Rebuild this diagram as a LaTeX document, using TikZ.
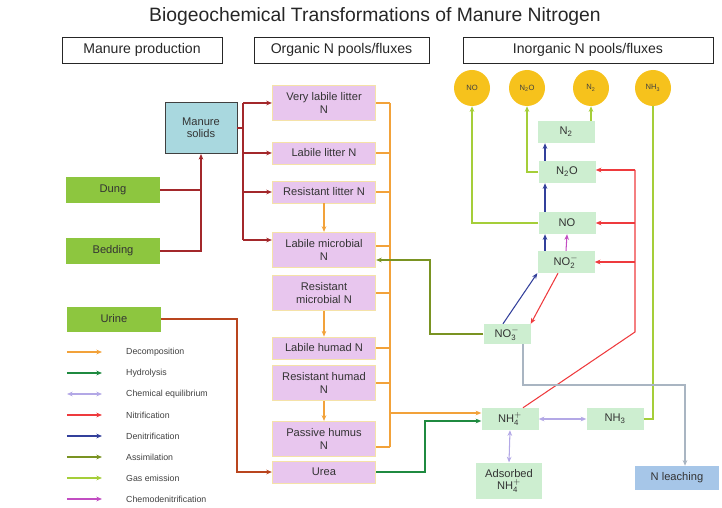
\documentclass[tikz,border=0pt]{standalone}
\usepackage{amsmath}
\usepackage{fontspec}
\setmainfont{Liberation Sans}
\usetikzlibrary{arrows.meta, positioning}

\definecolor{GasGold}{HTML}{F6C21C}
\definecolor{SourceGreen}{HTML}{8DC63F}
\definecolor{SolidsBlue}{HTML}{A9D8DF}
\definecolor{PoolPink}{HTML}{E8C6EE}
\definecolor{PoolEdge}{HTML}{F5E2A8}
\definecolor{InorgGreen}{HTML}{CDEED0}
\definecolor{LeachBlue}{HTML}{A6C6E8}
\definecolor{ManureRed}{HTML}{A3282B}
\definecolor{UrineBrown}{HTML}{B9451E}
\definecolor{DecompOrange}{HTML}{F2A23A}
\definecolor{HydroGreen}{HTML}{1F8A40}
\definecolor{EquilLilac}{HTML}{B3A8E6}
\definecolor{NitrRed}{HTML}{EE3A3D}
\definecolor{DenitBlue}{HTML}{33409B}
\definecolor{AssimOlive}{HTML}{7A9322}
\definecolor{GasLime}{HTML}{A5CE39}
\definecolor{ChemoMagenta}{HTML}{C24DC2}
\definecolor{LeachGray}{HTML}{A9B5C2}

\begin{document}
\begin{tikzpicture}[x=0.03cm, y=-0.03cm,
    txt/.style={font=\fontsize{9.5}{10.5}\selectfont, text=black!80, align=center, inner sep=1pt},
    header/.style={draw=black!85, line width=0.8pt, minimum height=0.78cm, font=\fontsize{12}{14}\selectfont, text=black!85},
    gasball/.style={circle, fill=GasGold, minimum size=1.08cm, inner sep=0pt, font=\fontsize{6.5}{7}\selectfont, text=black!75},
    source/.style={txt, fill=SourceGreen, minimum width=2.8cm, minimum height=0.75cm},
    solidsbox/.style={txt, fill=SolidsBlue, draw=black!75, line width=0.8pt, minimum width=2.16cm, minimum height=1.53cm},
    pool/.style={txt, fill=PoolPink, draw=PoolEdge, line width=0.8pt, minimum width=3.1cm, minimum height=0.66cm},
    pool2/.style={pool, minimum height=1.06cm},
    inorg/.style={txt, fill=InorgGreen, minimum width=1.71cm, minimum height=0.66cm},
    legtxt/.style={font=\fontsize{7.5}{8}\selectfont, text=black!75, anchor=west, inner sep=0pt},
    arr/.style={-{Stealth[length=1.7mm, width=1.4mm]}, line width=0.9pt},
    manline/.style={line width=0.9pt, ManureRed},
    manarr/.style={arr, ManureRed},
    urinearr/.style={arr, UrineBrown},
    decomp/.style={line width=0.9pt, DecompOrange},
    decomparr/.style={arr, DecompOrange},
    hydroarr/.style={arr, HydroGreen},
    equilarr/.style={{Stealth[length=1.7mm, width=1.4mm]}-{Stealth[length=1.7mm, width=1.4mm]}, line width=0.9pt, EquilLilac},
    nitrline/.style={line width=0.9pt, NitrRed},
    nitrarr/.style={arr, NitrRed},
    denitarr/.style={arr, DenitBlue},
    assimarr/.style={arr, AssimOlive},
    gasline/.style={line width=0.9pt, GasLime},
    gasarr/.style={arr, GasLime},
    chemoarr/.style={arr, ChemoMagenta},
    leacharr/.style={arr, LeachGray},
]
\useasboundingbox (0,0) rectangle (722,508);

% --- Title and column headers ---
\node[font=\fontsize{16.5}{18}\selectfont, text=black!85] (title) at (375,17) {Biogeochemical Transformations of Manure Nitrogen};
\node[header, minimum width=4.8cm]  (hprod) at (142,50) {Manure production};
\node[header, minimum width=5.25cm] (horg)  at (341.5,50) {Organic N pools/fluxes};
\node[header, minimum width=7.5cm]  (hinorg) at (588,50) {Inorganic N pools/fluxes};

% --- Gaseous losses ---
\node[gasball] (gNO)  at (472,88) {NO};
\node[gasball] (gN2O) at (527,88) {N$_\text{2}$O};
\node[gasball] (gN2)  at (591,88) {N$_\text{2}$};
\node[gasball] (gNH3) at (653,88) {NH$_\text{3}$};

% --- Manure production ---
\node[solidsbox] (solids)  at (201,128) {Manure\\solids};
\node[source]    (dung)    at (113,190) {Dung};
\node[source]    (bedding) at (113,251) {Bedding};
\node[source]    (urine)   at (114,319) {Urine};

% --- Organic N pools ---
\node[pool2] (vlit) at (324,103) {Very labile litter\\N};
\node[pool]  (llit) at (324,153) {Labile litter N};
\node[pool]  (rlit) at (324,192) {Resistant litter N};
\node[pool2] (lmic) at (324,250) {Labile microbial\\N};
\node[pool2] (rmic) at (324,293) {Resistant\\microbial N};
\node[pool]  (lhum) at (324,348) {Labile humad N};
\node[pool2] (rhum) at (324,383) {Resistant humad\\N};
\node[pool2] (phum) at (324,439) {Passive humus\\N};
\node[pool]  (urea) at (324,472) {Urea};

% --- Inorganic N pools ---
\node[inorg] (n2)  at (566,132) {N$_\text{2}$};
\node[inorg] (n2o) at (567,172) {N$_\text{2}$O};
\node[inorg] (no)  at (567,223) {NO};
\node[inorg] (no2) at (566,262) {NO$_\text{2}^-$};
\node[inorg, minimum width=1.41cm, minimum height=0.6cm] (no3) at (507,334) {NO$_\text{3}^-$};
\node[inorg] (nh4) at (510,419) {NH$_\text{4}^+$};
\node[inorg] (nh3) at (615,419) {NH$_\text{3}$};
\node[inorg, minimum width=1.98cm, minimum height=1.1cm] (ads) at (509,481) {Adsorbed\\NH$_\text{4}^+$};
\node[txt, fill=LeachBlue, minimum width=2.52cm, minimum height=0.72cm] (leach) at (677,478) {N leaching};

% --- Bend points ---
\coordinate (mbus)    at (243,103);
\coordinate (ubus)    at (237,400);
\coordinate (busTop)  at (390,103);
\coordinate (busBot)  at (390,447);
\coordinate (busNH)   at (390,413);
\coordinate (hydBend) at (425,421);
\coordinate (asBend)  at (430,260);
\coordinate (lchTop)  at (523,385);
\coordinate (lchBend) at (685,385);
\coordinate (nitKnee) at (635,332);
\coordinate (nitTop)  at (635,170);
\coordinate (denX)    at (545,0);

% --- Manure inputs ---
\draw[manline] (dung.east) -- (dung.east -| solids.south);
\draw[manarr] (bedding.east) -| (solids.south);
\draw[manline] (solids.east) -- (solids.east -| mbus);
\draw[manline] (mbus) -- ([yshift=3mm]lmic.west -| mbus);
\draw[manarr] (vlit.west -| mbus) -- (vlit.west);
\draw[manarr] (llit.west -| mbus) -- (llit.west);
\draw[manarr] (rlit.west -| mbus) -- (rlit.west);
\draw[manarr] ([yshift=3mm]lmic.west -| mbus) -- ([yshift=3mm]lmic.west);
\draw[urinearr] (urine.east) -| (ubus) |- (urea.west);

% --- Decomposition ---
\draw[decomparr] (rlit) -- (lmic);
\draw[decomparr] (rmic) -- (lhum);
\draw[decomparr] (rhum) -- (phum);
\draw[decomp] (vlit.east) -- (vlit.east -| busTop);
\draw[decomp] (llit.east) -- (llit.east -| busTop);
\draw[decomp] (rlit.east) -- (rlit.east -| busTop);
\draw[decomp] ([yshift=1.2mm]lmic.east) -- ([yshift=1.2mm]lmic.east -| busTop);
\draw[decomp] (rmic.east) -- (rmic.east -| busTop);
\draw[decomp] (lhum.east) -- (lhum.east -| busTop);
\draw[decomp] (rhum.east) -- (rhum.east -| busTop);
\draw[decomp] (busBot) -- (busBot -| phum.east);
\draw[decomp] (busTop) -- (busBot);
\draw[decomparr] (busNH) -- (busNH -| nh4.west);

% --- Hydrolysis and assimilation ---
\draw[hydroarr] (urea.east) -| (hydBend) -- (hydBend -| nh4.west);
\draw[assimarr] (no3.west) -| (asBend) -- (asBend -| lmic.east);

% --- Chemical equilibrium ---
\draw[equilarr] (nh4.east) -- (nh3.west);
\draw[equilarr] (nh4.south) -- (ads.north);

% --- Nitrification ---
\draw[nitrline] ([xshift=3.9mm]nh4.north) -- (nitKnee) -- (nitTop);
\draw[nitrarr] (nitTop) -- (nitTop -| n2o.east);
\draw[nitrarr] (no.east -| nitTop) -- (no.east);
\draw[nitrarr] (no2.east -| nitTop) -- (no2.east);
\draw[nitrarr] ([xshift=-2.4mm]no2.south) -- (no3.north east);

% --- Denitrification ---
\draw[denitarr] ([xshift=-1.2mm]no3.north) -- (no2.south west);
\draw[denitarr] (no2.north -| denX) -- (no.south -| denX);
\draw[denitarr] (no.north -| denX) -- (n2o.south -| denX);
\draw[denitarr] (n2o.north -| denX) -- (n2.south -| denX);

% --- Chemodenitrification ---
\draw[chemoarr] (no2.north) -- (no.south);

% --- Gas emission ---
\draw[gasarr] (no.west) -| (gNO.south);
\draw[gasarr] (n2o.west) -| (gN2O.south);
\draw[gasarr] (gN2.south |- n2.north) -- (gN2.south);
\draw[gasline] (nh3.east) -| (gNH3.south);

% --- Leaching ---
\draw[leacharr] (no3.south -| lchTop) -- (lchTop) -- (lchBend) -- (lchBend |- leach.north);

% --- Legend ---
\node[legtxt] (legDec)   at (126,352) {Decomposition};
\node[legtxt] (legHyd)   at (126,373) {Hydrolysis};
\node[legtxt] (legEq)    at (126,394) {Chemical equilibrium};
\node[legtxt] (legNit)   at (126,415) {Nitrification};
\node[legtxt] (legDen)   at (126,436) {Denitrification};
\node[legtxt] (legAss)   at (126,457) {Assimilation};
\node[legtxt] (legGas)   at (126,478) {Gas emission};
\node[legtxt] (legChemo) at (126,499) {Chemodenitrification};
\draw[decomparr] ([xshift=-1.77cm]legDec.west) -- ([xshift=-0.72cm]legDec.west);
\draw[hydroarr]  ([xshift=-1.77cm]legHyd.west) -- ([xshift=-0.72cm]legHyd.west);
\draw[equilarr]  ([xshift=-1.77cm]legEq.west) -- ([xshift=-0.72cm]legEq.west);
\draw[nitrarr]   ([xshift=-1.77cm]legNit.west) -- ([xshift=-0.72cm]legNit.west);
\draw[denitarr]  ([xshift=-1.77cm]legDen.west) -- ([xshift=-0.72cm]legDen.west);
\draw[assimarr]  ([xshift=-1.77cm]legAss.west) -- ([xshift=-0.72cm]legAss.west);
\draw[gasarr]    ([xshift=-1.77cm]legGas.west) -- ([xshift=-0.72cm]legGas.west);
\draw[chemoarr]  ([xshift=-1.77cm]legChemo.west) -- ([xshift=-0.72cm]legChemo.west);

\end{tikzpicture}
\end{document}
